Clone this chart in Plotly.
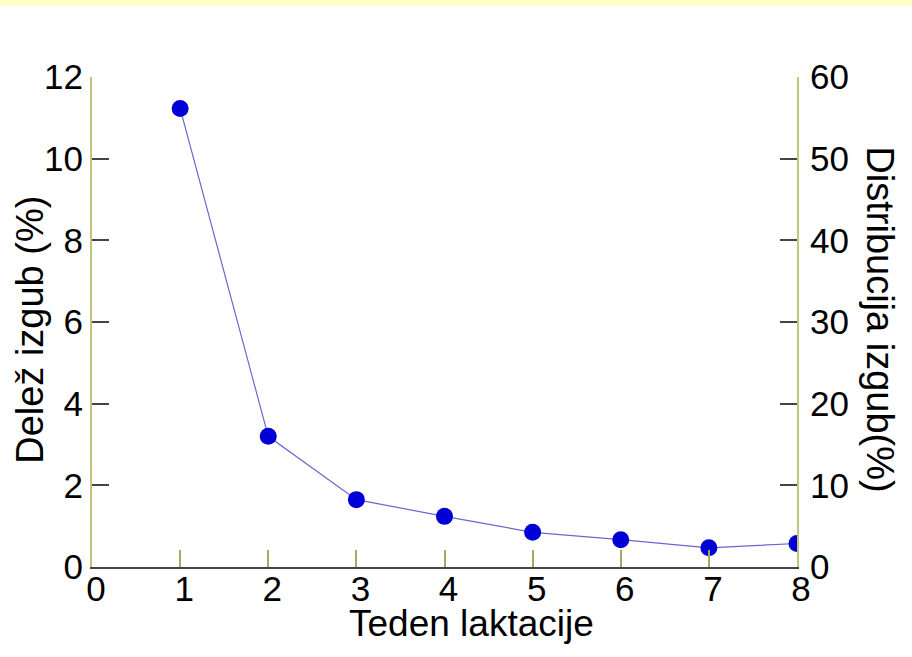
import plotly.graph_objects as go

weeks = [1, 2, 3, 4, 5, 6, 7, 8]
share_loss = [11.23, 3.20, 1.65, 1.24, 0.85, 0.67, 0.47, 0.575]

x_ticks = [0, 1, 2, 3, 4, 5, 6, 7, 8]
y_left_ticks = [0, 2, 4, 6, 8, 10, 12]
y_right_ticks = [0, 10, 20, 30, 40, 50, 60]

x_title = "Teden laktacije"
y_left_title = "Delež izgub (%)"
y_right_title = "Distribucija izgub(%)"

FONT = "Liberation Sans, Arial, Helvetica, sans-serif"
AXIS_YEL = "#c4c47a"
TICK_DARK = "#444444"

fig = go.Figure()
fig.add_trace(go.Scatter(
    x=weeks, y=share_loss, mode="lines+markers",
    line=dict(color="#6868cc", width=1.2),
    marker=dict(color="#0000d6", size=17, line=dict(width=0)),
    showlegend=False, hoverinfo="x+y",
))
fig.add_trace(go.Scatter(x=[], y=[], yaxis="y2", showlegend=False))

fig.update_layout(
    width=912, height=657,
    margin=dict(l=92, r=115, t=77, b=90),
    paper_bgcolor="white", plot_bgcolor="white",
    font=dict(family=FONT, color="black", size=35),
    xaxis=dict(
        range=[0, 8], tickvals=x_ticks, ticks="inside", ticklen=17,
        tickcolor="#a8a860", tickwidth=2, showgrid=False, zeroline=False,
        showline=True, linecolor=TICK_DARK, linewidth=2,
        tickfont=dict(size=35), ticklabelstandoff=-10, ticklabelshift=4,
    ),
    yaxis=dict(
        range=[0, 12], tickvals=y_left_ticks, ticks="inside", ticklen=17,
        tickcolor=TICK_DARK, tickwidth=2, showgrid=False, zeroline=False,
        showline=True, linecolor=AXIS_YEL, linewidth=2,
        tickfont=dict(size=35), ticklabelstandoff=0,
    ),
    yaxis2=dict(
        range=[0, 60], tickvals=y_right_ticks, ticks="inside", ticklen=17,
        tickcolor=TICK_DARK, tickwidth=2, showgrid=False, zeroline=False,
        showline=True, linecolor=AXIS_YEL, linewidth=2, side="right",
        overlaying="y", tickfont=dict(size=35), ticklabelstandoff=4,
    ),
    shapes=[dict(
        type="rect", xref="paper", yref="paper",
        x0=-0.14, x1=1.17, y0=1.1449, y1=1.2,
        fillcolor="#ffffcc", line=dict(width=0), layer="below",
    )],
    annotations=[
        dict(text=x_title, xref="paper", yref="paper", x=0.539, y=-0.116,
             xanchor="center", yanchor="middle", showarrow=False,
             font=dict(size=37)),
        dict(text=y_left_title, xref="paper", yref="paper", x=-0.088, y=0.484,
             xanchor="center", yanchor="middle", showarrow=False,
             textangle=-90, font=dict(size=38)),
        dict(text=y_right_title, xref="paper", yref="paper", x=1.118, y=0.505,
             xanchor="center", yanchor="middle", showarrow=False,
             textangle=90, font=dict(size=38)),
    ],
)

fig.write_html("out.html", config={"displayModeBar": False},
               post_script="document.body.style.margin='0';")
